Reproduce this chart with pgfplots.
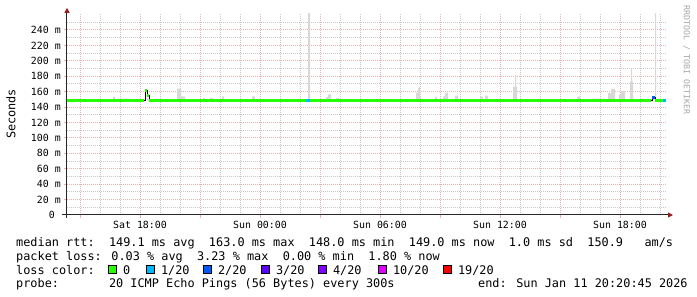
\documentclass[border=0pt]{standalone}
\usepackage{fontspec}
\setmainfont{DejaVu Sans Mono}
\usepackage{pgfplots}
\pgfplotsset{compat=1.18}
\usetikzlibrary{arrows.meta}
\definecolor{lgreen}{HTML}{26FF00}
\definecolor{lA}{HTML}{00B8FF}
\definecolor{lB}{HTML}{0059FF}
\definecolor{lC}{HTML}{5E00FF}
\definecolor{lD}{HTML}{7E00FF}
\definecolor{lE}{HTML}{DD00FF}
\definecolor{lF}{HTML}{FF0000}
\definecolor{smoke}{RGB}{216,216,216}
\definecolor{mgrid}{RGB}{232,178,178}
\definecolor{mingrid}{RGB}{200,200,200}
\definecolor{arrowred}{RGB}{150,30,30}
\newcommand{\lf}{\fontsize{11.86}{14}\selectfont}
\begin{document}
\begin{tikzpicture}
\path[use as bounding box] (0,0) rectangle (697pt,297pt);
\begin{axis}[
  at={(67pt,82pt)}, anchor=south west,
  scale only axis, width=600pt, height=201.2pt,
  xmin=14.35, xmax=44.35, ymin=0, ymax=261,
  axis x line=bottom, axis y line=left,
  axis line style={line width=1pt, draw=black!85},
  x axis line style={shorten <=-5pt, shorten >=-6pt, -{Triangle[length=5pt,width=5pt,color=arrowred]}},
  y axis line style={shorten <=-3pt, shorten >=-6pt, -{Triangle[length=5pt,width=5pt,color=arrowred]}},
  xtick={15,18,...,42},
  xticklabels={,Sat 18:00,,Sun 00:00,,Sun 06:00,,Sun 12:00,,Sun 18:00},
  minor xtick={15,...,44},
  ytick={0,20,...,240},
  yticklabels={0~~,20 m,40 m,60 m,80 m,100 m,120 m,140 m,160 m,180 m,200 m,220 m,240 m},
  minor ytick={10,30,...,250},
  grid=both,
  major grid style={mgrid, line width=1pt, dash pattern=on 1pt off 1pt},
  minor grid style={mingrid, line width=1pt, dash pattern=on 1pt off 1pt},
  tick align=outside, major tick length=3pt, minor tick length=0pt,
  tick style={mgrid, line width=1pt},
  ticklabel style={font=\fontsize{9.9}{11}\selectfont, text=black},
  yticklabel style={anchor=east, inner sep=0pt, xshift=-3pt},
  xticklabel style={anchor=north, inner sep=0pt, yshift=-3pt},
]
% smoke: top of the smoke as steps, closed back along the median base
\addplot[fill=smoke, draw=none, const plot] coordinates {
(14.35,149) (16.65,153.5) (16.75,149) (16.85,150.8) (17.5,149) (19.85,164) (20.05,154) (20.25,149)
(21.15,151.5) (21.25,149) (21.5,151.5) (21.65,149) (22.1,154) (22.2,149) (23.6,154) (23.75,149)
(26.4,262) (26.5,149) (27.3,153) (27.4,156.6) (27.55,149) (27.8,151.5) (27.95,149) (28.5,150.8) (28.55,149)
(30.25,150.8) (30.3,149) (31.5,151) (31.55,149) (31.8,158.7) (31.9,165.5) (32.0,149) (32.75,153.5) (32.85,149)
(33.15,154) (33.25,158.7) (33.4,149) (33.75,154.8) (33.9,149) (35.0,153.5) (35.15,149) (35.25,154.8) (35.4,149)
(36.65,166.5) (36.75,181.6) (36.8,166.5) (36.85,149) (39.85,153.5) (40.0,149) (40.6,150.8) (40.85,149)
(40.9,150.8) (41.0,149) (41.15,150.8) (41.25,149) (41.4,158) (41.55,163.5) (41.75,149) (41.95,156.6)
(42.05,160.8) (42.25,149) (42.5,173) (42.55,190) (42.6,173) (42.65,149) (43.75,262) (43.8,149) (44.35,149)
(14.35,149)};
% black transitions of the median
\addplot[black, line width=1pt, const plot] coordinates {(18.2,149) (18.25,161) (18.35,155) (18.45,149) (18.5,149)};
\addplot[black, line width=1pt, const plot] coordinates {(43.55,149) (43.6,152) (43.75,149) (43.8,149)};
% median line coloured by loss
\addplot[lgreen, line width=2.8pt] coordinates {(14.35,149) (18.22,149)};
\addplot[lgreen, line width=2.8pt] coordinates {(18.25,161) (18.35,161)};
\addplot[lgreen, line width=2.8pt] coordinates {(18.35,155) (18.45,155)};
\addplot[lgreen, line width=2.8pt] coordinates {(18.45,149) (26.3,149)};
\addplot[lA, line width=2.8pt] coordinates {(26.3,149) (26.5,149)};
\addplot[lgreen, line width=2.8pt] coordinates {(26.5,149) (43.57,149)};
\addplot[lB, line width=2.8pt] coordinates {(43.62,152) (43.75,152)};
\addplot[lgreen, line width=2.8pt] coordinates {(43.77,149) (44.17,149)};
\addplot[lA, line width=2.8pt] coordinates {(44.17,149) (44.3,149)};
\end{axis}
% axis title and watermark
\node[rotate=90, font=\lf, anchor=center] at (11pt,183pt) {Seconds};
\node[rotate=-90, font=\fontsize{8.3}{10}\selectfont, text=black!35, anchor=center] at (686.5pt,237pt) {RRDTOOL / TOBI OETIKER};
% legend
\node[anchor=base west, inner sep=0pt, font=\lf] at (16pt,50.3pt) {median rtt:~~149.1 ms avg~~163.0 ms max~~148.0 ms min~~149.0 ms now~~1.0 ms sd~~150.9~~~am/s};
\node[anchor=base west, inner sep=0pt, font=\lf] at (16pt,36.5pt) {packet loss: 0.03 \% avg~~3.23 \% max~~0.00 \% min~~1.80 \% now};
\node[anchor=base west, inner sep=0pt, font=\lf] at (16pt,22.7pt) {loss color:};
\foreach \s/\c/\t in {108/lgreen/{0}, 146/lA/{1/20}, 203/lB/{2/20}, 261/lC/{3/20}, 318/lD/{4/20}, 378/lE/{10/20}, 443/lF/{19/20}}{
  \draw[black, line width=0.8pt, fill=\c] (\s pt+0.5pt,23.2pt) rectangle (\s pt+8.5pt,31.6pt);
  \node[anchor=base west, inner sep=0pt, font=\lf] at (\s pt+14.8pt,22.7pt) {\t};
}
\node[anchor=base west, inner sep=0pt, font=\lf] at (16pt,9pt) {probe:~~~~~~~20 ICMP Echo Pings (56 Bytes) every 300s};
\node[anchor=base west, inner sep=0pt, font=\lf] at (478pt,9pt) {end: Sun Jan 11 20:20:45 2026};
\end{tikzpicture}
\end{document}
